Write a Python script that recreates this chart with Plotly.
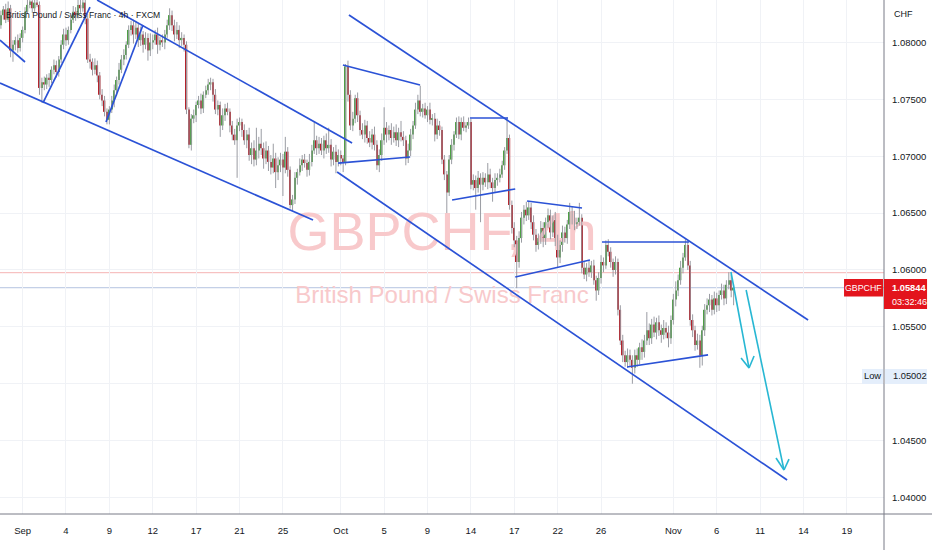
import plotly.graph_objects as go

# ---------------- data (4h bars, GBPCHF, FXCM) ----------------
first_bar = -9          # index of the first visible 4h bar (bar 0 = first bar of Sep 1)
bars_per_day = 6
first_open = 1.0815

closes = [
    1.0824, 1.0829, 1.0820, 1.0830, 1.0793, 1.0798, 1.0802, 1.0795, 1.0804, 1.0811, 1.0827, 1.0833, 1.0836, 1.0830, 1.0835, 1.0833,
    1.0760, 1.0765, 1.0763, 1.0769, 1.0767, 1.0776, 1.0780, 1.0774, 1.0785, 1.0798, 1.0807, 1.0802, 1.0811, 1.0820, 1.0827, 1.0824, 1.0833, 1.0830, 1.0835, 1.0821,
    1.0785, 1.0783, 1.0776, 1.0780, 1.0771, 1.0754, 1.0749, 1.0739, 1.0732,
    1.0741, 1.0749, 1.0758, 1.0767, 1.0776, 1.0785, 1.0789, 1.0798, 1.0811, 1.0815, 1.0807, 1.0813, 1.0802, 1.0807, 1.0798, 1.0804,
    1.0793, 1.0800, 1.0802, 1.0807, 1.0798, 1.0802, 1.0800, 1.0807, 1.0815, 1.0824, 1.0815, 1.0807, 1.0811, 1.0802, 1.0804, 1.0798,
    1.0741, 1.0710, 1.0733, 1.0736, 1.0745, 1.0749, 1.0742, 1.0754, 1.0758, 1.0763, 1.0765, 1.0754, 1.0741, 1.0745, 1.0727, 1.0736,
    1.0742, 1.0739, 1.0727, 1.0719, 1.0714, 1.0727, 1.0730, 1.0723, 1.0714, 1.0719, 1.0701, 1.0707, 1.0697, 1.0705, 1.0711, 1.0707,
    1.0698, 1.0705, 1.0695, 1.0690, 1.0698, 1.0686, 1.0692, 1.0697, 1.0690, 1.0704, 1.0688, 1.0657,
    1.0662, 1.0681, 1.0686, 1.0692, 1.0697, 1.0694, 1.0688, 1.0695, 1.0705, 1.0714, 1.0707, 1.0711, 1.0705, 1.0714, 1.0707, 1.0710,
    1.0697, 1.0704, 1.0695, 1.0701, 1.0698, 1.0695,
    1.0779, 1.0754, 1.0727, 1.0733, 1.0751, 1.0736, 1.0723, 1.0719, 1.0727, 1.0716, 1.0712, 1.0719, 1.0710, 1.0692, 1.0701, 1.0714,
    1.0725, 1.0719, 1.0723, 1.0716, 1.0721, 1.0714, 1.0721, 1.0717, 1.0714, 1.0698, 1.0705, 1.0719, 1.0727, 1.0741, 1.0749,
    1.0739, 1.0742, 1.0736, 1.0741, 1.0732, 1.0733, 1.0719, 1.0727, 1.0723, 1.0697, 1.0684,
    1.0668, 1.0697, 1.0710, 1.0719, 1.0730, 1.0719, 1.0730, 1.0725, 1.0727, 1.0730,
    1.0675, 1.0679, 1.0672, 1.0681, 1.0675, 1.0681, 1.0677, 1.0684, 1.0677, 1.0672, 1.0679, 1.0681, 1.0684, 1.0692, 1.0705, 1.0716,
    1.0657, 1.0637, 1.0626, 1.0607, 1.0628, 1.0646, 1.0653, 1.0648, 1.0655, 1.0642, 1.0631, 1.0622, 1.0628, 1.0637, 1.0626,
    1.0642, 1.0648, 1.0633, 1.0644, 1.0626, 1.0611, 1.0622, 1.0633, 1.0628, 1.0640, 1.0651, 1.0646, 1.0640, 1.0642, 1.0646,
    1.0602, 1.0596, 1.0602, 1.0598, 1.0604, 1.0591, 1.0582, 1.0593, 1.0607, 1.0604,
    1.0622, 1.0616, 1.0607, 1.0600, 1.0607,
    1.0565, 1.0538, 1.0525, 1.0519, 1.0525, 1.0521,
    1.0514, 1.0525, 1.0521, 1.0532, 1.0528, 1.0538, 1.0547, 1.0540, 1.0552, 1.0545, 1.0554, 1.0547, 1.0543, 1.0549, 1.0545, 1.0540,
    1.0556, 1.0574, 1.0582, 1.0591, 1.0602, 1.0611, 1.0622,
    1.0604, 1.0556, 1.0547, 1.0534, 1.0538, 1.0525,
    1.0547, 1.0565, 1.0569, 1.0574, 1.0565, 1.0575, 1.0569, 1.0578, 1.0582, 1.0575, 1.0587, 1.0591, 1.0582, 1.05844,
]

up_wick_pips = [
    4, 3, 5, 6, 3, 4, 3, 5, 4, 3, 4, 5, 10, 4, 6, 8,
    3, 4, 5, 3, 4, 3, 5, 4, 3, 4, 5, 6, 3, 4, 5, 4, 6, 5, 8, 4,
    4, 5, 3, 6, 4, 3, 5, 4, 3,
    3, 4, 5, 3, 6, 4, 5, 3, 4, 4, 5, 6, 4, 7, 3, 5,
    4, 8, 5, 4, 6, 3, 5, 4, 5, 6, 4, 5, 7, 4, 5, 3,
    3, 2, 4, 5, 3, 4, 6, 3, 4, 5, 4, 3, 5, 4, 3, 6,
    4, 5, 3, 4, 5, 6, 4, 3, 5, 4, 6, 5, 7, 20, 6, 13,
    5, 8, 4, 6, 13, 5, 7, 6, 5, 13, 4, 3,
    4, 5, 3, 6, 4, 5, 3, 7, 5, 16, 4, 6, 5, 4, 6, 15,
    5, 4, 6, 5, 4, 3,
    2, 5, 4, 6, 3, 5, 4, 6, 5, 4, 6, 5, 7, 4, 5, 6,
    18, 5, 4, 6, 5, 7, 4, 10, 5, 4, 6, 5, 4, 6, 5,
    13, 4, 5, 3, 6, 4, 5, 6, 4, 3, 4,
    3, 4, 5, 3, 4, 5, 4, 5, 3, 4,
    3, 5, 4, 6, 4, 5, 4, 10, 5, 4, 6, 4, 5, 4, 3, 18,
    3, 4, 5, 4, 6, 5, 4, 7, 5, 4, 6, 5, 4, 6, 5,
    4, 6, 5, 4, 7, 5, 4, 6, 5, 4, 8, 5, 6, 4, 13,
    3, 5, 4, 6, 4, 5, 4, 5, 6, 4,
    4, 5, 4, 3, 5,
    3, 4, 5, 4, 6, 5,
    4, 5, 6, 4, 7, 5, 16, 6, 5, 7, 4, 6, 5, 7, 5, 6,
    4, 5, 8, 5, 6, 4, 5,
    3, 4, 5, 4, 6, 5,
    4, 5, 6, 5, 4, 6, 5, 4, 6, 5, 4, 7, 5, 3,
]

down_wick_pips = [
    3, 4, 3, 2, 6, 10, 5, 4, 3, 4, 3, 2, 3, 4, 3, 2,
    6, 13, 5, 4, 6, 3, 4, 5, 4, 3, 4, 5, 4, 3, 3, 5, 3, 4, 3, 5,
    3, 6, 5, 4, 6, 4, 5, 4, 4,
    4, 3, 6, 5, 4, 3, 5, 4, 3, 5, 8, 4, 6, 5, 7, 4,
    9, 5, 6, 4, 8, 5, 4, 6, 3, 4, 5, 6, 4, 7, 5, 6,
    4, 3, 5, 4, 6, 3, 5, 4, 3, 4, 5, 6, 4, 5, 10, 4,
    5, 3, 6, 5, 4, 33, 5, 6, 4, 7, 5, 8, 6, 5, 7, 6,
    9, 5, 8, 6, 5, 14, 7, 6, 25, 5, 6, 3,
    5, 4, 6, 3, 5, 4, 6, 5, 4, 3, 6, 5, 4, 7, 5, 4,
    6, 5, 10, 4, 6, 9,
    3, 6, 4, 5, 4, 6, 5, 4, 7, 5, 4, 6, 5, 4, 6, 5,
    4, 7, 5, 6, 4, 5, 6, 4, 5, 6, 4, 5, 4, 3, 4,
    4, 5, 3, 6, 4, 5, 6, 4, 5, 4, 5,
    18, 3, 4, 5, 3, 4, 5, 3, 4, 3,
    4, 5, 19, 4, 33, 5, 4, 6, 5, 12, 4, 5, 4, 3, 4, 3,
    4, 5, 6, 23, 5, 4, 6, 5, 4, 6, 5, 6, 4, 5, 6,
    4, 5, 6, 4, 5, 9, 5, 6, 4, 5, 4, 6, 5, 4, 3,
    5, 4, 6, 4, 5, 4, 9, 4, 5, 6,
    3, 4, 5, 6, 4,
    5, 4, 6, 4, 5, 6,
    14, 5, 6, 4, 7, 5, 4, 6, 5, 4, 6, 5, 7, 4, 5, 8,
    5, 4, 6, 5, 4, 5, 3,
    4, 5, 6, 5, 4, 11,
    9, 5, 4, 6, 5, 4, 6, 5, 4, 6, 5, 4, 6, 13,
]

# x-axis labels (trading-day index from Sep 1) and their text
tick_days = [0, 3, 6, 9, 12, 15, 18, 22, 25, 28, 31, 34, 37, 40, 45, 48, 51, 54, 57]
tick_text = ["Sep", "4", "9", "12", "17", "21", "25", "Oct", "5", "9", "14", "17", "22", "26",
             "Nov", "6", "11", "14", "19"]

# price axis
y_ticks = [1.040, 1.045, 1.050, 1.055, 1.060, 1.065, 1.070, 1.075, 1.080]
y_tick_text = ["1.04000", "1.04500", "", "1.05500", "1.06000", "1.06500", "1.07000", "1.07500", "1.08000"]
last_price = 1.05844
low_price = 1.05002
prev_close_line = 1.05976
countdown = "03:32:46"

# hand-drawn trend lines (bar index, price)
blue_lines = [
    ((-9.38, 1.07643), (120.5, 1.06439)),
    ((-9.38, 1.08021), (1.0, 1.07828)),
    ((30.9, 1.08373), (136.7, 1.07116)),
    ((8.46, 1.07468), (27.97, 1.08311)),
    ((34.6, 1.07301), (49.96, 1.08153)),
    ((135.4, 1.08241), (325.9, 1.05560)),
    ((130.5, 1.06861), (317.2, 1.04154)),
    ((132.9, 1.07802), (164.9, 1.07626)),
    ((130.9, 1.06940), (160.8, 1.06993)),
    ((185.6, 1.07336), (201.4, 1.07336)),
    ((178.2, 1.06615), (204.4, 1.06712)),
    ((209.3, 1.06606), (232.1, 1.06545)),
    ((204.4, 1.05938), (235.4, 1.06088)),
    ((240.4, 1.06246), (276.5, 1.06246)),
    ((250.8, 1.05147), (284.4, 1.05253)),
]
cyan_arrows = [
    # shaft start, tip, wing 1, wing 2
    ((293.9, 1.05982), (301.4, 1.05138), (298.1, 1.05226), (303.5, 1.05244)),
    ((300.2, 1.05824), (315.9, 1.04242), (312.6, 1.04347), (318.0, 1.04338)),
]

# ---------------- build ----------------
FONT = "Liberation Sans, Arial, sans-serif"
GREEN = "#4e9f45"
RED = "#b5222b"
WICK = "#9a9ca3"
BLUE = "#2b52d6"
CYAN = "#27b7d3"
TXT = "#131722"

opens = [first_open] + closes[:-1]
xs = list(range(first_bar, first_bar + len(closes)))
highs = [max(o, c) + u * 1e-4 for o, c, u in zip(opens, closes, up_wick_pips)]
lows = [min(o, c) - d * 1e-4 for o, c, d in zip(opens, closes, down_wick_pips)]

wx, wy = [], []
for xi, h, l in zip(xs, highs, lows):
    wx += [xi, xi, None]
    wy += [l, h, None]

body_base = [min(o, c) for o, c in zip(opens, closes)]
body_h = [max(abs(c - o), 0.00004) for o, c in zip(opens, closes)]
body_col = [GREEN if c >= o else RED for o, c in zip(opens, closes)]

x_min, x_max = -9.38, 357.4
y_min, y_max = 1.03855, 1.08373

fig = go.Figure()

# watermark (behind the candles)
fig.add_trace(go.Scatter(
    x=[174.0, 174.0], y=[1.06290, 1.05760], mode="text",
    text=["GBPCHF, 4h", "British Pound / Swiss Franc"],
    textfont=dict(family=FONT, size=[54, 24], color="#f8c9cb"),
    hoverinfo="skip", showlegend=False))

fig.add_trace(go.Scatter(x=wx, y=wy, mode="lines",
                         line=dict(color=WICK, width=1), hoverinfo="skip", showlegend=False))
fig.add_trace(go.Bar(x=xs, y=body_h, base=body_base, width=0.62,
                     marker=dict(color=body_col, line=dict(width=0)),
                     hoverinfo="skip", showlegend=False))

shapes = []
# price lines
shapes.append(dict(type="line", xref="paper", yref="y", x0=0, x1=1, y0=prev_close_line, y1=prev_close_line,
                   line=dict(color="#f5b3b3", width=1), layer="between"))
shapes.append(dict(type="line", xref="paper", yref="y", x0=0, x1=1, y0=last_price, y1=last_price,
                   line=dict(color="#b4c3e0", width=1), layer="between"))
for (p0, p1) in blue_lines:
    shapes.append(dict(type="line", xref="x", yref="y", x0=p0[0], y0=p0[1], x1=p1[0], y1=p1[1],
                       line=dict(color=BLUE, width=1.7), layer="above"))
for (s, t, w1, w2) in cyan_arrows:
    for a, b in ((s, t), (w1, t), (w2, t)):
        shapes.append(dict(type="line", xref="x", yref="y", x0=a[0], y0=a[1], x1=b[0], y1=b[1],
                           line=dict(color=CYAN, width=1.6), layer="above"))

# axis borders
shapes.append(dict(type="line", xref="paper", yref="paper", x0=1, x1=1, y0=-0.08, y1=1,
                   line=dict(color="#787b86", width=1)))
shapes.append(dict(type="line", xref="paper", yref="paper", x0=0, x1=1.06, y0=0, y1=0,
                   line=dict(color="#787b86", width=1)))

# current price labels
shapes.append(dict(type="rect", xref="paper", yref="y", x0=1.0, x1=1.0487, y0=1.05657, y1=1.05921,
                   fillcolor="#e3141c", line=dict(width=0)))
shapes.append(dict(type="rect", xref="paper", yref="y", x0=0.9548, x1=0.9989, y0=1.05767, y1=1.05921,
                   fillcolor="#e3141c", line=dict(width=0)))
# low labels
shapes.append(dict(type="rect", xref="paper", yref="y", x0=1.0011, x1=1.0487, y0=1.04998, y1=1.05130,
                   fillcolor="#e4eefb", line=dict(width=0)))
shapes.append(dict(type="rect", xref="paper", yref="y", x0=0.9751, x1=0.9989, y0=1.04998, y1=1.05130,
                   fillcolor="#e4eefb", line=dict(width=0)))

annotations = [
    dict(text="British Pound / Swiss Franc · 4h · FXCM", xref="paper", yref="paper", x=0.004, y=0.971,
         xanchor="left", yanchor="middle", showarrow=False, font=dict(family=FONT, size=8.6, color=TXT)),
    dict(text="CHF", xref="paper", yref="paper", x=1.009, y=0.972, xanchor="left", yanchor="middle",
         showarrow=False, font=dict(family=FONT, size=9, color=TXT)),
    dict(text="<b>%.5f</b>" % last_price, xref="paper", yref="y", x=1.0068, y=last_price, xanchor="left",
         yanchor="middle", showarrow=False, font=dict(family=FONT, size=9.3, color="white")),
    dict(text=countdown, xref="paper", yref="y", x=1.0068, y=1.05719, xanchor="left",
         yanchor="middle", showarrow=False, font=dict(family=FONT, size=9, color="white")),
    dict(text="GBPCHF", xref="paper", yref="y", x=0.9768, y=1.05844, xanchor="center",
         yanchor="middle", showarrow=False, font=dict(family=FONT, size=8.8, color="white")),
    dict(text="Low", xref="paper", yref="y", x=0.987, y=1.05064, xanchor="center",
         yanchor="middle", showarrow=False, font=dict(family=FONT, size=9.3, color=TXT)),
    dict(text="%.5f" % low_price, xref="paper", yref="y", x=1.0075, y=1.05064, xanchor="left",
         yanchor="middle", showarrow=False, font=dict(family=FONT, size=9.3, color=TXT)),
]

fig.update_layout(
    width=932, height=550,
    margin=dict(l=0, r=48, t=0, b=36),
    paper_bgcolor="white", plot_bgcolor="white",
    font=dict(family=FONT, size=9.5, color=TXT),
    showlegend=False,
    shapes=shapes, annotations=annotations,
    xaxis=dict(range=[x_min, x_max], tickmode="array",
               tickvals=[d * bars_per_day for d in tick_days], ticktext=tick_text,
               showgrid=True, gridcolor="#f0f2f6", gridwidth=1, zeroline=False, showline=False,
               ticks="", ticklabelstandoff=9, tickfont=dict(family=FONT, size=9.5, color=TXT),
               fixedrange=True),
    yaxis=dict(range=[y_min, y_max], side="right", tickmode="array", tickvals=y_ticks,
               ticktext=y_tick_text, showgrid=True, gridcolor="#f0f2f6", gridwidth=1,
               zeroline=False, showline=False, ticks="", ticklabelstandoff=7,
               tickfont=dict(family=FONT, size=9.5, color=TXT), fixedrange=True),
)

fig.write_html("out.html", config={"displayModeBar": False},
               post_script="document.body.style.margin='0';")
